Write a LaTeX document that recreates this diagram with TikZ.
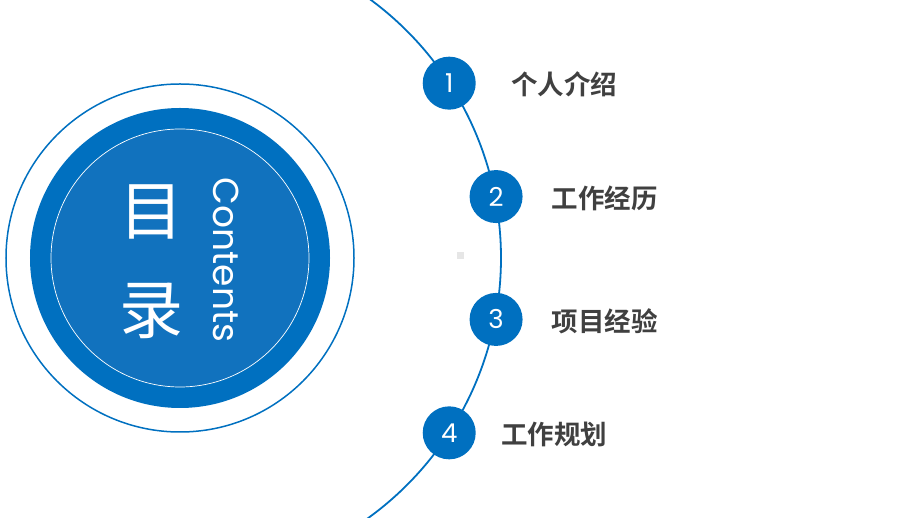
\documentclass[tikz,border=0pt]{standalone}
\usepackage{fontspec}
\setsansfont{Poppins}
\newfontfamily\cjk{Noto Sans CJK SC}
\newfontfamily\cjkbold{Noto Sans CJK SC Bold}
\usetikzlibrary{positioning}
\definecolor{ringblue}{RGB}{0,112,192}
\definecolor{coreblue}{RGB}{17,114,190}
\definecolor{labelgray}{RGB}{64,64,64}
\definecolor{dotgray}{RGB}{230,230,230}

\begin{document}
\begin{tikzpicture}[x=1pt, y=1pt, node distance=30pt,
  num/.style={circle, fill=ringblue, text=white, minimum size=53pt, inner sep=0pt,
    font=\sffamily\fontsize{26}{26}\selectfont},
  item/.style={anchor=west, inner sep=0pt, text=labelgray,
    font=\cjkbold\fontsize{26.5}{26.5}\selectfont}]
\useasboundingbox (-180,-260) rectangle (740,258);
\clip (-180,-260) rectangle (740,258);
% left badge
\draw[ringblue, line width=1.5pt] (0,0) circle[radius=174];
\fill[ringblue] (0,0) circle[radius=150];
\fill[coreblue] (0,0) circle[radius=129];
\draw[white, line width=0.7pt] (0,0) circle[radius=129];
\node[text=white, font=\cjk\fontsize{64}{64}\selectfont] (mu) at (-28,46) {目};
\node[text=white, font=\cjk\fontsize{64}{64}\selectfont] (lu) at (-28,-53) {录};
\node[text=white, rotate=-90, font=\sffamily\fontsize{36}{36}\selectfont] (contents) at (46,-2) {Contents};
% big arc
\draw[ringblue, line width=1.8pt] (56:321) arc[start angle=56, end angle=-56, radius=321];
\fill[dotgray] (277,-1) rectangle (284,6);
% items
\node[num] (n1) at (33:321) {1};
\node[num] (n2) at (11:322) {2};
\node[num] (n3) at (-11:322) {3};
\node[num] (n4) at (-33:321) {4};
\node[item, right=35pt of n1, yshift=-1.5pt] (t1) {个人介绍};
\node[item, right=29pt of n2, yshift=-1.5pt] (t2) {工作经历};
\node[item, right=29pt of n3, yshift=-1.5pt] (t3) {项目经验};
\node[item, right=25pt of n4, yshift=-1.5pt] (t4) {工作规划};
\end{tikzpicture}
\end{document}
